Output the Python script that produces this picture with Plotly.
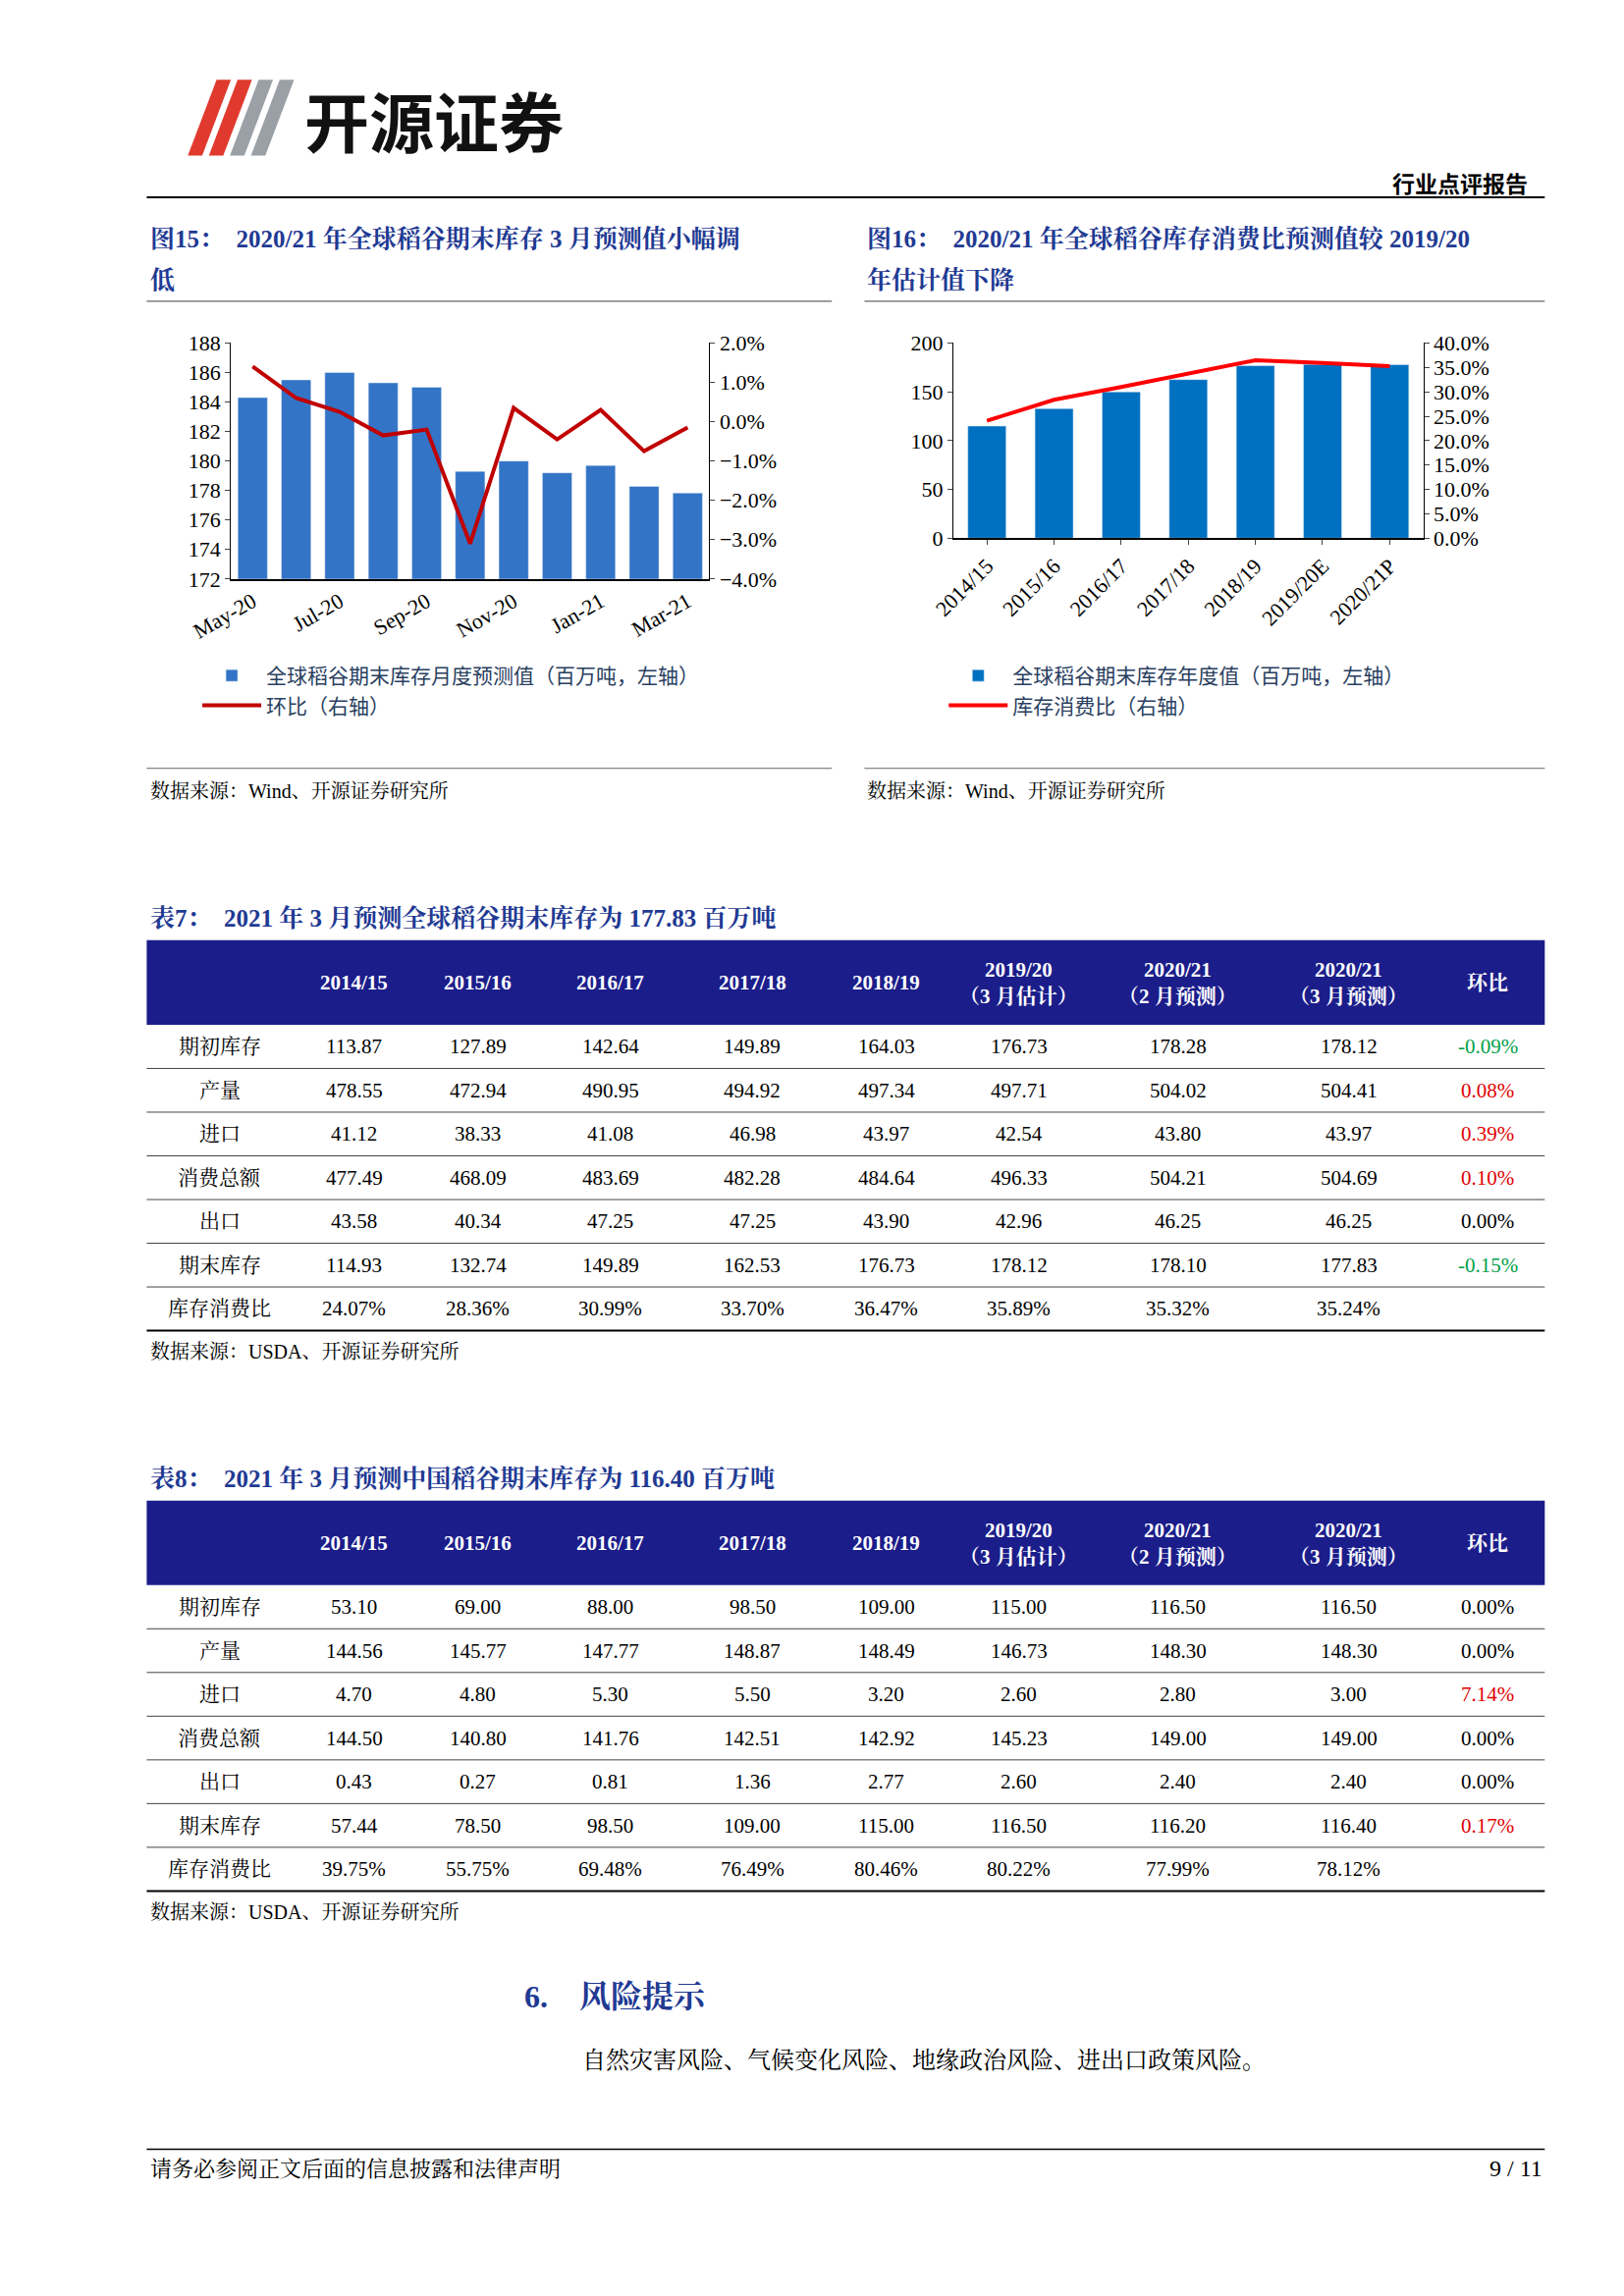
import plotly.graph_objects as go

W, H = 1654, 2339
def px(x): return x / W
def py(y): return 1 - y / H

# ---------- data ----------
months = ["May-20","Jun-20","Jul-20","Aug-20","Sep-20","Oct-20","Nov-20","Dec-20","Jan-21","Feb-21","Mar-21"]
month_stock = [184.3,185.5,186.0,185.3,185.0,179.3,180.0,179.2,179.7,178.28,177.83]
month_chg = [1.4,0.6,0.25,-0.35,-0.2,-3.1,0.35,-0.45,0.3,-0.75,-0.15]

years = ["2014/15","2015/16","2016/17","2017/18","2018/19","2019/20E","2020/21P"]
year_stock = [114.93,132.74,149.89,162.53,176.73,178.12,177.83]
year_ratio = [24.07,28.36,30.99,33.70,36.47,35.89,35.24]

tbl_head = ["", "2014/15","2015/16","2016/17","2017/18","2018/19","2019/20<br>（3 月估计）","2020/21<br>（2 月预测）","2020/21<br>（3 月预测）","环比"]
row_names = ["期初库存","产量","进口","消费总额","出口","期末库存","库存消费比"]
t7 = [
    ["113.87","127.89","142.64","149.89","164.03","176.73","178.28","178.12","-0.09%"],
    ["478.55","472.94","490.95","494.92","497.34","497.71","504.02","504.41","0.08%"],
    ["41.12","38.33","41.08","46.98","43.97","42.54","43.80","43.97","0.39%"],
    ["477.49","468.09","483.69","482.28","484.64","496.33","504.21","504.69","0.10%"],
    ["43.58","40.34","47.25","47.25","43.90","42.96","46.25","46.25","0.00%"],
    ["114.93","132.74","149.89","162.53","176.73","178.12","178.10","177.83","-0.15%"],
    ["24.07%","28.36%","30.99%","33.70%","36.47%","35.89%","35.32%","35.24%",""],
]
t8 = [
    ["53.10","69.00","88.00","98.50","109.00","115.00","116.50","116.50","0.00%"],
    ["144.56","145.77","147.77","148.87","148.49","146.73","148.30","148.30","0.00%"],
    ["4.70","4.80","5.30","5.50","3.20","2.60","2.80","3.00","7.14%"],
    ["144.50","140.80","141.76","142.51","142.92","145.23","149.00","149.00","0.00%"],
    ["0.43","0.27","0.81","1.36","2.77","2.60","2.40","2.40","0.00%"],
    ["57.44","78.50","98.50","109.00","115.00","116.50","116.20","116.40","0.17%"],
    ["39.75%","55.75%","69.48%","76.49%","80.46%","80.22%","77.99%","78.12%",""],
]

SERIF = "Liberation Serif, Noto Serif CJK SC, Noto Sans CJK SC"
CJK = "Noto Sans CJK SC"
NAVY = "#1B1D8A"
TBLUE = "#1F3A93"

fig = go.Figure()

fig.add_trace(go.Bar(x=months, y=month_stock, marker_color="#3374C6", width=0.68,
                     name="全球稻谷期末库存月度预测值（百万吨，左轴）", xaxis="x", yaxis="y", legend="legend"))
fig.add_trace(go.Scatter(x=months, y=month_chg, mode="lines", line=dict(color="#C00000", width=4),
                         name="环比（右轴）", xaxis="x", yaxis="y2", legend="legend"))
fig.add_trace(go.Bar(x=years, y=year_stock, marker_color="#0070C0", width=0.57,
                     name="全球稻谷期末库存年度值（百万吨，左轴）", xaxis="x2", yaxis="y3", legend="legend2"))
fig.add_trace(go.Scatter(x=years, y=year_ratio, mode="lines", line=dict(color="#FF0000", width=4),
                         name="库存消费比（右轴）", xaxis="x2", yaxis="y4", legend="legend2"))

shapes, ann = [], []
def hline(x0, x1, y, color="black", w=1.5):
    shapes.append(dict(type="line", xref="paper", yref="paper", x0=px(x0), x1=px(x1),
                       y0=py(y), y1=py(y), line=dict(color=color, width=w)))
def text(x, y, s, size, color="black", anchor="left", family=SERIF, bold=False):
    ann.append(dict(xref="paper", yref="paper", x=px(x), y=py(y), text=f"<b>{s}</b>" if bold else s,
                    showarrow=False, xanchor=anchor, yanchor="middle",
                    font=dict(size=size, color=color, family=family)))

# ---------- tables ----------
bounds = [102,255,383,513,660,810,940,1087,1272,1444,1563]
def make_table(data, top):
    hb = top + 87
    shapes.append(dict(type="rect", xref="paper", yref="paper", x0=px(102), x1=px(1563),
                       y0=py(hb), y1=py(top), fillcolor=NAVY, line=dict(width=0)))
    for i, h in enumerate(tbl_head):
        cx = (bounds[i] + bounds[i + 1]) / 2
        text(cx, top + 44, h, 21, "white", "center", SERIF, True)
    for r in range(7):
        cy = hb + 22.5 + 45 * r
        text((bounds[0] + bounds[1]) / 2, cy, row_names[r], 21, "black", "center", SERIF)
        for c, v in enumerate(data[r]):
            col = "black"
            if c == 8 and v:
                col = "#00A04A" if v.startswith("-") else ("black" if v == "0.00%" else "#E00000")
            text((bounds[c + 1] + bounds[c + 2]) / 2, cy, v, 21, col, "center", SERIF)
        hline(102, 1563, hb + 45 * (r + 1), "#444" if r < 6 else "black", 1 if r < 6 else 2)

make_table(t7, 948)
make_table(t8, 1525)

hline(102, 1563, 183, "black", 2)
hline(102, 818, 290, "#666", 1.2)
hline(852, 1563, 290, "#666", 1.2)
hline(102, 818, 771, "#666", 1.2)
hline(852, 1563, 771, "#666", 1.2)
hline(102, 1563, 2193, "black", 1.5)

for c, dx in [("#E03A2E", 0), ("#E03A2E", 22), ("#9AA0A6", 44), ("#9AA0A6", 66)]:
    shapes.append(dict(type="path", xref="paper", yref="paper",
        path=f"M {px(145+dx)} {py(140)} L {px(160+dx)} {py(140)} L {px(190+dx)} {py(62)} L {px(175+dx)} {py(62)} Z",
        fillcolor=c, line=dict(width=0)))

text(265, 102, "开源证券", 66, "#111", family=CJK, bold=True)
text(1547, 168, "行业点评报告", 23, "black", "right", CJK, True)
text(104, 225, "图15：  2020/21 年全球稻谷期末库存 3 月预测值小幅调", 25, TBLUE, bold=True)
text(104, 268, "低", 25, TBLUE, bold=True)
text(853, 225, "图16：  2020/21 年全球稻谷库存消费比预测值较 2019/20", 25, TBLUE, bold=True)
text(853, 268, "年估计值下降", 25, TBLUE, bold=True)
text(104, 794, "数据来源：Wind、开源证券研究所", 20)
text(853, 794, "数据来源：Wind、开源证券研究所", 20)
text(104, 925, "表7：  2021 年 3 月预测全球稻谷期末库存为 177.83 百万吨", 25, TBLUE, bold=True)
text(104, 1372, "数据来源：USDA、开源证券研究所", 20)
text(104, 1502, "表8：  2021 年 3 月预测中国稻谷期末库存为 116.40 百万吨", 25, TBLUE, bold=True)
text(104, 1949, "数据来源：USDA、开源证券研究所", 20)
text(495, 2036, "6.    风险提示", 32, TBLUE, bold=True)
text(555, 2101, "自然灾害风险、气候变化风险、地缘政治风险、进出口政策风险。", 24)
text(104, 2213, "请务必参阅正文后面的信息披露和法律声明", 22)
text(1563, 2213, "9 / 11", 24, anchor="right")

axfont = dict(family=SERIF, size=22, color="black")
fig.update_layout(
    width=W, height=H, margin=dict(l=0, r=0, t=0, b=0),
    paper_bgcolor="white", plot_bgcolor="white", showlegend=True,
    xaxis=dict(domain=[px(190), px(690)], anchor="y", tickangle=-30, tickfont=axfont,
               tickvals=months[::2], showline=True, linecolor="black", ticks="", linewidth=1.5),
    yaxis=dict(domain=[py(576), py(333)], range=[172, 188], dtick=2, tickfont=axfont,
               showline=True, linecolor="black", ticks="outside", ticklen=5, showgrid=False, zeroline=False),
    yaxis2=dict(overlaying="y", side="right", anchor="x", range=[-4, 2], dtick=1, ticksuffix="%",
                tickformat=".1f", tickfont=axfont, showline=True, linecolor="black",
                ticks="outside", ticklen=5, showgrid=False, zeroline=False),
    xaxis2=dict(domain=[px(945), px(1436)], anchor="y3", tickangle=-45, tickfont=axfont,
                showline=True, linecolor="black", ticks="outside", ticklen=5, linewidth=1.5),
    yaxis3=dict(domain=[py(534), py(333)], anchor="x2", range=[0, 200], dtick=50, tickfont=axfont,
                showline=True, linecolor="black", ticks="outside", ticklen=5, showgrid=False, zeroline=False),
    yaxis4=dict(overlaying="y3", side="right", anchor="x2", range=[0, 40], dtick=5, ticksuffix="%",
                tickformat=".1f", tickfont=axfont, showline=True, linecolor="black",
                ticks="outside", ticklen=5, showgrid=False, zeroline=False),
    legend=dict(x=px(155), y=py(655), xanchor="left", yanchor="top", orientation="v",
                font=dict(family=CJK, size=21), itemwidth=60, tracegroupgap=10, bgcolor="rgba(0,0,0,0)"),
    legend2=dict(x=px(935), y=py(655), xanchor="left", yanchor="top", orientation="v",
                 font=dict(family=CJK, size=21), itemwidth=60, tracegroupgap=10, bgcolor="rgba(0,0,0,0)"),
    shapes=shapes, annotations=ann,
)
fig.write_html("out.html")
